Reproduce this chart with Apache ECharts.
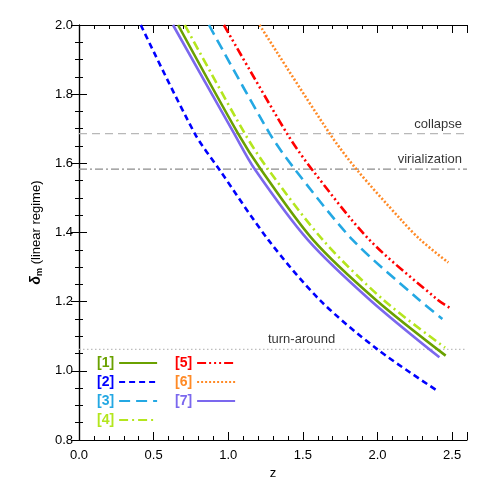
<!DOCTYPE html>
<html>
<head>
<meta charset="utf-8">
<script src="https://cdn.jsdelivr.net/npm/echarts@6/dist/echarts.min.js"></script>
<style>
  html, body { margin: 0; padding: 0; background: #fff; }
  #chart { width: 491px; height: 491px; }
</style>
</head>
<body>
<div id="chart"></div>
<script>
// Courbes : z et delta_m pour chaque modèle
const names = ["[1]", "[2]", "[3]", "[4]", "[5]", "[6]", "[7]"];

const z1 = [0.664, 1.066, 1.218, 1.57, 1.99, 2.457];
const d1 = [2.0, 1.686, 1.583, 1.378, 1.205, 1.044];

const z2 = [0.414, 0.776, 0.939, 1.27, 1.613, 2.0, 2.41];
const d2 = [2.0, 1.686, 1.583, 1.378, 1.205, 1.062, 0.94];

const z3 = [0.871, 1.278, 1.446, 1.835, 2.28, 2.435];
const d3 = [2.0, 1.686, 1.583, 1.378, 1.205, 1.150];

const z4 = [0.709, 1.111, 1.267, 1.635, 2.04, 2.453];
const d4 = [2.0, 1.686, 1.583, 1.378, 1.205, 1.067];

const z5 = [0.971, 1.394, 1.56, 1.948, 2.405, 2.49];
const d5 = [2.0, 1.686, 1.583, 1.378, 1.205, 1.181];

const z6 = [1.21, 1.68, 1.859, 2.16, 2.29, 2.475];
const d6 = [2.0, 1.686, 1.583, 1.436, 1.378, 1.313];

const z7 = [0.63, 1.04, 1.178, 1.535, 1.95, 2.415];
const d7 = [2.0, 1.686, 1.583, 1.378, 1.205, 1.039];

// Seuils horizontaux
const refNames = ["collapse", "virialization", "turn-around"];
const refValues = [1.686, 1.583, 1.062];

const xTicks = [0.0, 0.5, 1.0, 1.5, 2.0, 2.5];
const yTicks = [0.8, 1.0, 1.2, 1.4, 1.6, 1.8, 2.0];

const curves = [[z1, d1], [z2, d2], [z3, d3], [z4, d4], [z5, d5], [z6, d6], [z7, d7]];

const colors = ["#6aa100", "#0000ff", "#24a8e3", "#b4e61e", "#ff0000", "#ff8a26", "#7b68ee"];
const dashes = [
    "solid",
    [6, 4],
    [11, 6],
    [9, 4, 2, 4],
    [9, 3, 2, 3, 2, 3, 2, 3],
    [2, 2],
    "solid"
];

const font = "Liberation Sans";

function zip(xs, ys)
{
    return xs.map((x, i) => [x, ys[i]]);
}

const curveSeries = names.map((name, i) => ({
    name,
    type: "line",
    data: zip(curves[i][0], curves[i][1]),
    smooth: 0.3,
    showSymbol: false,
    symbol: "none",
    clip: true,
    lineStyle: { color: colors[i], width: 2.6, type: dashes[i] },
    itemStyle: { color: colors[i] },
    z: 5
}));

// Lignes de référence (tracées d'un bord à l'autre)
const refStyles = [
    { color: "#b8b8b8", type: [8, 5] },
    { color: "#8c8c8c", type: [8, 3, 2, 3] },
    { color: "#bdbdbd", type: [1.5, 2.5] }
];

const refSeries = refNames.map((name, i) => ({
    name: name,
    type: "line",
    data: [[0, refValues[i]], [2.6, refValues[i]]],
    showSymbol: false,
    symbol: "none",
    silent: true,
    lineStyle: { color: refStyles[i].color, width: 1.2, type: refStyles[i].type },
    z: 2
}));

// Étiquettes des seuils
const refLabels = {
    type: "scatter",
    symbolSize: 0,
    silent: true,
    data: [
        { value: [2.6, refValues[0]], label: { formatter: refNames[0] } },
        { value: [2.6, refValues[1]], label: { formatter: refNames[1] } },
        { value: [1.75, refValues[2]], label: { formatter: refNames[2] } }
    ],
    label: {
        show: true,
        position: "top",
        align: "right",
        offset: [-5, 0],
        distance: 3,
        color: "#000",
        fontFamily: font,
        fontSize: 13
    },
    z: 6
};

function legendData(list)
{
    return list.map((n) => ({ name: n, textStyle: { color: colors[names.indexOf(n)] } }));
}

// Légende : texte puis trait, sans symbole
const legendBase = {
    orient: "vertical",
    align: "right",
    itemWidth: 38,
    itemHeight: 12,
    itemGap: 5,
    padding: 0,
    itemStyle: { opacity: 0 },
    textStyle: { fontFamily: font, fontSize: 14, fontWeight: "bold" },
    selectedMode: false
};

const axisCommon = {
    axisLine: { lineStyle: { color: "#000", width: 1.2 } },
    axisTick: { inside: true, length: 8, lineStyle: { color: "#000" } },
    splitLine: { show: false }
};

const xMinor = { show: true, splitNumber: 5, length: 4, lineStyle: { color: "#000" } };
const yMinor = { show: true, splitNumber: 4, length: 4, lineStyle: { color: "#000" } };

const option = {
    backgroundColor: "#fff",
    animation: false,
    grid: { left: 79, right: 24, top: 25, bottom: 51 },
    xAxis: [
        Object.assign({
            type: "value",
            min: 0,
            max: 2.6,
            interval: 0.5,
            name: "z",
            nameLocation: "middle",
            nameGap: 26,
            nameTextStyle: { fontFamily: font, fontSize: 13, color: "#000" },
            minorTick: xMinor,
            axisLabel: {
                color: "#000",
                fontFamily: font,
                fontSize: 13,
                margin: 9,
                formatter: (v) => (xTicks.includes(v) ? v.toFixed(1) : "")
            }
        }, axisCommon),
        Object.assign({
            type: "value",
            position: "top",
            min: 0,
            max: 2.6,
            interval: 0.5,
            minorTick: xMinor,
            axisLabel: { show: false }
        }, axisCommon)
    ],
    yAxis: [
        Object.assign({
            type: "value",
            min: 0.8,
            max: 2.0,
            interval: 0.2,
            name: "{d|δ}{s|m} (linear regime)",
            nameLocation: "middle",
            nameGap: 33,
            nameTextStyle: {
                fontFamily: font,
                fontSize: 13,
                color: "#000",
                rich: {
                    d: { fontFamily: font, fontSize: 14, fontWeight: "bold", fontStyle: "italic", color: "#000" },
                    s: { fontFamily: font, fontSize: 9, fontWeight: "bold", color: "#000", verticalAlign: "bottom", padding: [6, 0, 0, 0] }
                }
            },
            minorTick: yMinor,
            axisLabel: {
                color: "#000",
                fontFamily: font,
                fontSize: 13,
                margin: 6,
                formatter: (v) => (yTicks.some((t) => Math.abs(t - v) < 1e-6) ? v.toFixed(1) : "")
            }
        }, axisCommon),
        Object.assign({
            type: "value",
            position: "right",
            min: 0.8,
            max: 2.0,
            interval: 0.2,
            minorTick: yMinor,
            axisLabel: { show: false }
        }, axisCommon)
    ],
    legend: [
        Object.assign({ left: 97, top: 356, data: legendData(["[1]", "[2]", "[3]", "[4]"]) }, legendBase),
        Object.assign({ left: 175, top: 356, data: legendData(["[5]", "[6]", "[7]"]) }, legendBase)
    ],
    series: refSeries.concat(curveSeries, [refLabels])
};

const chart = echarts.init(document.getElementById("chart"));
chart.setOption(option);
</script>
</body>
</html>
